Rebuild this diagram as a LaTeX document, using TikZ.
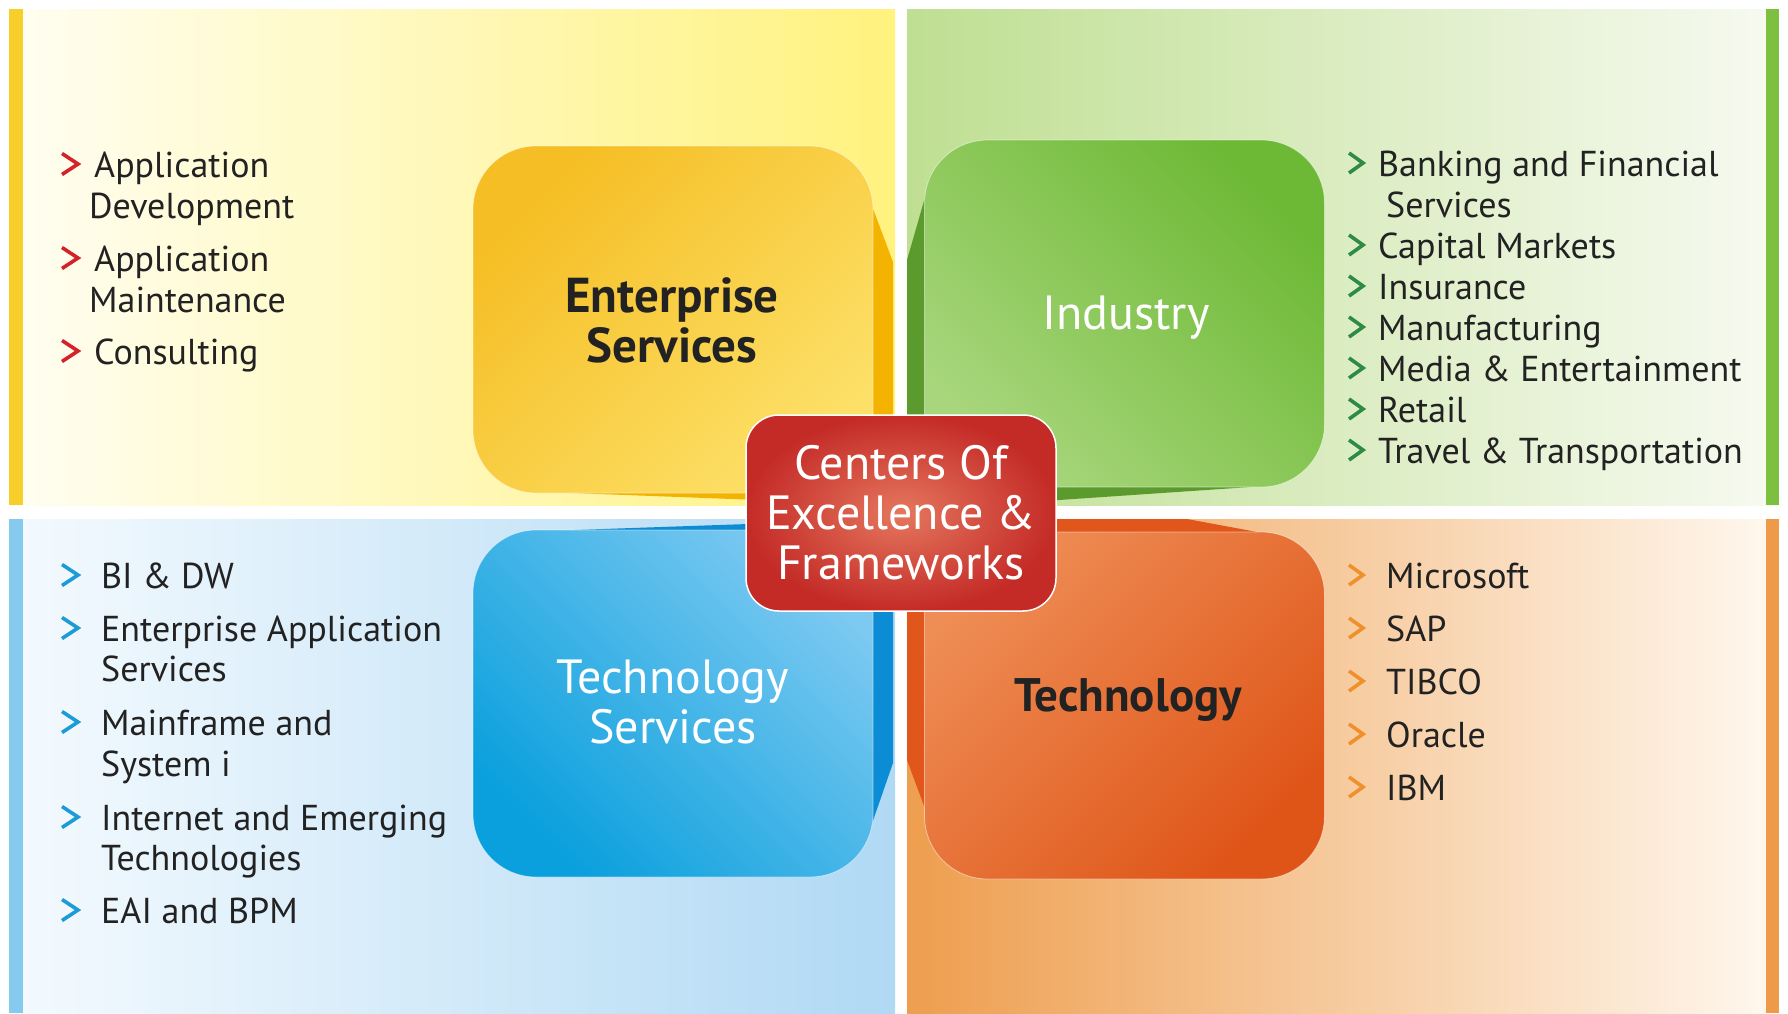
\documentclass[tikz,border=0pt]{standalone}
\usepackage{fontspec}
\setmainfont{PT Sans}
\usetikzlibrary{calc}
\definecolor{tlL}{HTML}{FFFEF2}
\definecolor{tlR}{HTML}{FFF27E}
\definecolor{tlS}{HTML}{F8CF2A}
\definecolor{trL}{HTML}{BFDF92}
\definecolor{trR}{HTML}{F7FAF1}
\definecolor{trS}{HTML}{7DBF3E}
\definecolor{blL}{HTML}{F4FAFE}
\definecolor{blR}{HTML}{B0D9F4}
\definecolor{blS}{HTML}{86CBEF}
\definecolor{brL}{HTML}{EE9E4E}
\definecolor{brR}{HTML}{FFF8F0}
\definecolor{brS}{HTML}{EE9A48}
\definecolor{esA}{HTML}{F5BE24}
\definecolor{esB}{HTML}{FDE068}
\definecolor{esSide}{HTML}{F4B301}
\definecolor{inA}{HTML}{6DB935}
\definecolor{inB}{HTML}{A8D67C}
\definecolor{inSide}{HTML}{5B9B2D}
\definecolor{tsA}{HTML}{7CC9F1}
\definecolor{tsB}{HTML}{0AA0DD}
\definecolor{tsSide}{HTML}{0B8CD4}
\definecolor{teA}{HTML}{EE8D55}
\definecolor{teB}{HTML}{DF5518}
\definecolor{teSide}{HTML}{E1561A}
\definecolor{coA}{HTML}{E5775E}
\definecolor{coB}{HTML}{C42B27}
\definecolor{bulR}{HTML}{D3222A}
\definecolor{bulG}{HTML}{2E8B45}
\definecolor{bulB}{HTML}{1C9BD7}
\definecolor{bulO}{HTML}{F0902A}
\definecolor{txt}{HTML}{222222}
% colour, node, x offset, half width, half height
\newcommand\chev[5]{\draw[#1,chevline] ($(#2.base west)+(#3,-13-#5)$) -- ++(2*#4,#5) -- ++(-2*#4,#5);}
\tikzset{
  box/.style={rounded corners=63pt, minimum width=400pt, minimum height=347pt, inner sep=0pt, draw=white, draw opacity=0.5, line width=0.8pt},
  hdr/.style={align=center, font=\fontsize{48}{57}\selectfont},
  hdrb/.style={align=center, font=\fontsize{47}{57}\selectfont\bfseries},
  item/.style={anchor=base west, inner sep=0pt, font=\fontsize{36}{41}\selectfont, text=txt},
  chevline/.style={line width=3.6pt, line join=miter, line cap=butt},
}
\begin{document}
\begin{tikzpicture}[x=1pt,y=-1pt]
\useasboundingbox (0,0) rectangle (1788,1013);
\fill[white] (0,0) rectangle (1788,1013);
% panels
\fill[left color=tlL, right color=tlR] (9,9) rectangle (895,505);
\fill[tlS] (9,9) rectangle (23,505);
\fill[left color=trL, right color=trR] (907,9) rectangle (1779,505);
\fill[trS] (1766,9) rectangle (1779,505);
\fill[left color=blL, right color=blR] (9,519) rectangle (895,1013);
\fill[blS] (9,519) rectangle (23,1013);
\fill[left color=brL, right color=brR] (907,519) rectangle (1779,1013);
\fill[brS] (1766,519) rectangle (1779,1013);
% 3D sides
\fill[esSide] (866,190) -- (893,262) -- (893,505) -- (545,492) -- (700,480) -- (860,300) -- cycle;
\fill[inSide] (930,180) -- (907,260) -- (907,504) -- (1000,504) -- (1265,486) -- (1100,400) -- (950,300) -- cycle;
\fill[tsSide] (545,531) -- (893,519) -- (893,763) -- (868,835) -- (800,700) -- (600,560) -- cycle;
\fill[teSide] (907,519) -- (1187,519) -- (1268,534) -- (1000,650) -- (930,822) -- (907,760) -- cycle;
% boxes
\node[box, top color=esA, bottom color=esB, shading angle=45] (es) at (673,319.5) {};
\node[box, top color=inA, bottom color=inB, shading angle=-45] (in) at (1124.5,313.5) {};
\node[box, top color=tsA, bottom color=tsB, shading angle=-45] (ts) at (673,703.5) {};
\node[box, top color=teA, bottom color=teB, shading angle=45] (te) at (1124.5,705.5) {};
\node[hdrb, text=txt, font=\fontsize{49}{57}\selectfont\bfseries] (esT) at (672,320) {Enterprise\\[-7pt]Services};
\node[hdr, text=white] (inT) at (1126,318) {Industry};
\node[hdr, text=white] (tsT) at (673,702) {Technology\\[-7pt]Services};
\node[hdrb, text=txt] (teT) at (1128,700) {Technology};
% center
\node[rounded corners=33pt, minimum width=310pt, minimum height=196pt, draw=white, line width=1.5pt,
      inner color=coA, outer color=coB, text=white, align=center, font=\fontsize{48}{50}\selectfont] (coe) at (901,513)
      {Centers Of\\Excellence \&\\Frameworks};
% top-left list
\node[item] (tl1a) at (94,177) {Application};
\node[item] (tl1b) at (89,218) {Development};
\node[item] (tl2a) at (94,271) {Application};
\node[item] (tl2b) at (89,312) {Maintenance};
\node[item] (tl3) at (94,364) {Consulting};
\foreach \n in {tl1a,tl2a,tl3}{\chev{bulR}{\n}{-32}{8}{10.5}}
% top-right list
\node[item] (tr1a) at (1378,176) {Banking and Financial};
\node[item] (tr1b) at (1386,217) {Services};
\node[item] (tr2) at (1378,258) {Capital Markets};
\node[item] (tr3) at (1378,299) {Insurance};
\node[item] (tr4) at (1378,340) {Manufacturing};
\node[item] (tr5) at (1378,381) {Media \& Entertainment};
\node[item] (tr6) at (1378,422) {Retail};
\node[item] (tr7) at (1378,463) {Travel \& Transportation};
\foreach \n in {tr1a,tr2,tr3,tr4,tr5,tr6,tr7}{\chev{bulG}{\n}{-29}{7}{10}}
% bottom-left list
\node[item] (bl1) at (101,588) {BI \& DW};
\node[item] (bl2a) at (101,641) {Enterprise Application};
\node[item] (bl2b) at (101,681) {Services};
\node[item] (bl3a) at (101,735) {Mainframe and};
\node[item] (bl3b) at (101,776) {System i};
\node[item] (bl4a) at (101,830) {Internet and Emerging};
\node[item] (bl4b) at (101,870) {Technologies};
\node[item] (bl5) at (101,923) {EAI and BPM};
\foreach \n in {bl1,bl2a,bl3a,bl4a,bl5}{\chev{bulB}{\n}{-39}{8}{10.5}}
% bottom-right list
\node[item] (br1) at (1386,588) {Microsoft};
\node[item] (br2) at (1386,641) {SAP};
\node[item] (br3) at (1386,694) {TIBCO};
\node[item] (br4) at (1386,747) {Oracle};
\node[item] (br5) at (1386,800) {IBM};
\foreach \n in {br1,br2,br3,br4,br5}{\chev{bulO}{\n}{-37}{7}{10}}
\end{tikzpicture}
\end{document}
